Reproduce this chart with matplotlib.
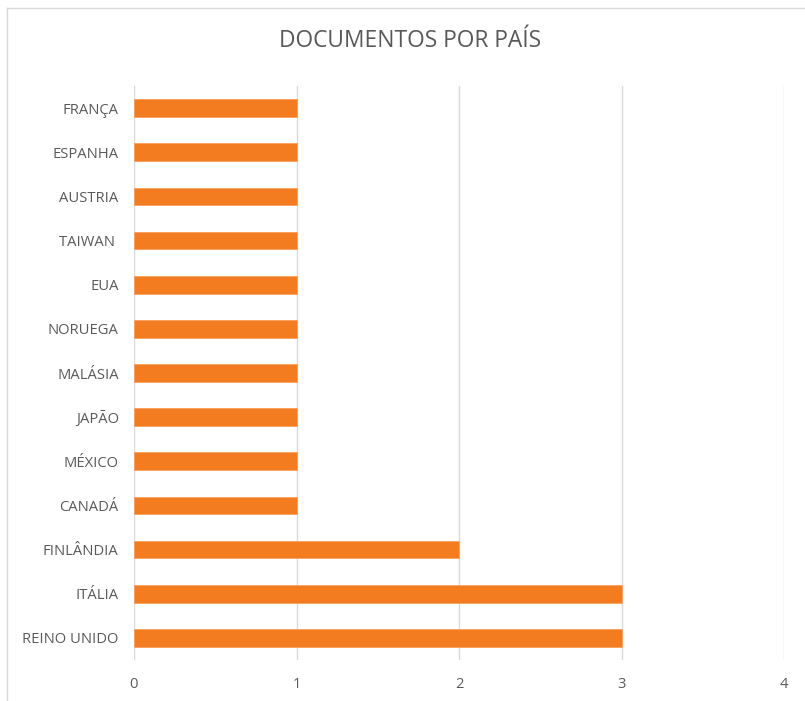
import matplotlib
matplotlib.use("Agg")
import matplotlib.pyplot as plt
from matplotlib.lines import Line2D

countries = ["REINO UNIDO", "ITÁLIA", "FINLÂNDIA", "CANADÁ", "MÉXICO", "JAPÃO",
             "MALÁSIA", "NORUEGA", "EUA", "TAIWAN ", "AUSTRIA", "ESPANHA", "FRANÇA"]
documents = [3, 3, 2, 1, 1, 1, 1, 1, 1, 1, 1, 1, 1]
x_ticks = [0, 1, 2, 3, 4]

plt.rcParams['font.family'] = ['Open Sans', 'DejaVu Sans']
text_color = "#595959"

fig = plt.figure(figsize=(8.05, 7.01), dpi=100)
ax = fig.add_axes([134/805, 1-660/701, (784-134)/805, (660-86)/701])

ypos = list(range(len(countries)))
ax.barh(ypos, documents, height=0.4, color="#F47C20", edgecolor="#F8A060",
        linewidth=0.6, zorder=3)

ax.set_xlim(0, 4)
ax.set_ylim(-0.5, len(countries) - 0.5)
ax.set_xticks(x_ticks)
ax.set_xticklabels([str(t) for t in x_ticks])
ax.set_yticks(ypos)
ax.set_yticklabels(countries)
ax.tick_params(axis='both', length=0, colors=text_color, labelsize=10.6)
ax.tick_params(axis='x', pad=12)
ax.tick_params(axis='y', pad=11)
for s in ax.spines.values():
    s.set_visible(False)
ax.grid(axis='x', color="#D9D9D9", linewidth=1.0, zorder=0)

fig.text(410/805, 1-41/701, "DOCUMENTOS POR PAÍS", ha='center', va='center',
         fontsize=16.4, color=text_color)

# chart area border
fig.add_artist(Line2D([7/805, 7/805], [0, 1-8/701], color="#D9D9D9", linewidth=1.0))
fig.add_artist(Line2D([7/805, 1], [1-8/701, 1-8/701], color="#D9D9D9", linewidth=1.0))

fig.savefig("out.png", dpi=100)
